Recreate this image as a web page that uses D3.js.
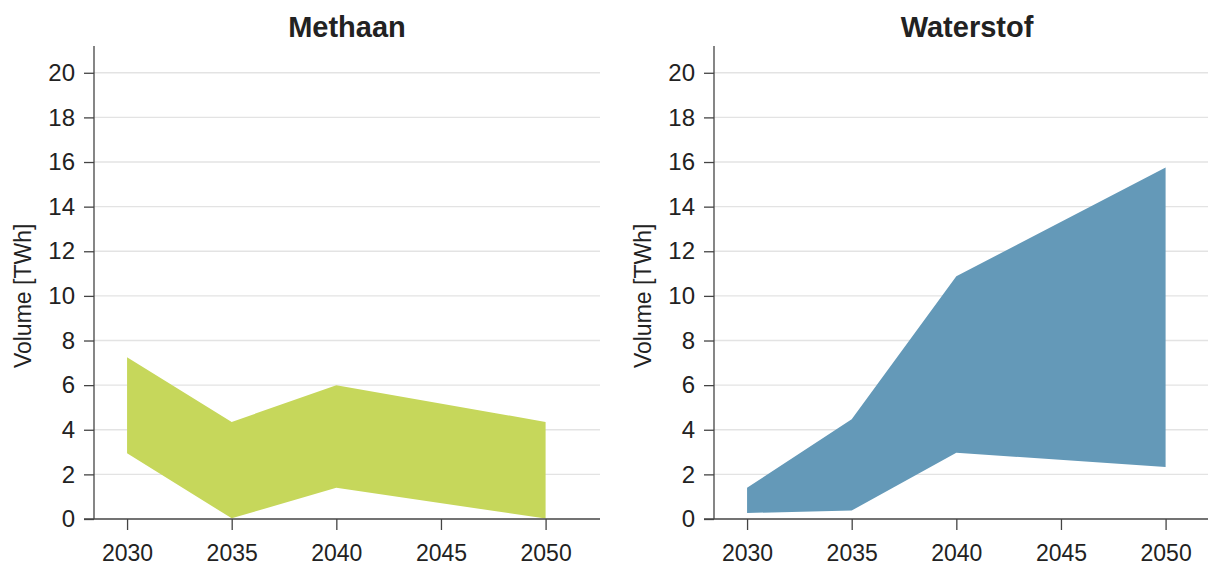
<!DOCTYPE html>
<html><head><meta charset="utf-8">
<script src="https://cdn.jsdelivr.net/npm/d3@7"></script>
<style>
body{margin:0;background:#fff;}
svg text{font-family:"Liberation Sans",Arial,Helvetica,sans-serif;fill:#222;}
</style></head>
<body><svg id="c" width="1208" height="567"></svg>
<script>
const years = [2030, 2035, 2040, 2050];
const xTicks = [2030, 2035, 2040, 2045, 2050];
const yTicks = [0, 2, 4, 6, 8, 10, 12, 14, 16, 18, 20];
const titles = ["Methaan", "Waterstof"];
const yLabel = "Volume [TWh]";
const methaanLow  = [2.95, 0.03, 1.4, 0.02];
const methaanHigh = [7.25, 4.35, 6.0, 4.35];
const waterstofLow  = [0.27, 0.38, 2.97, 2.33];
const waterstofHigh = [1.4, 4.47, 10.88, 15.75];
const colors = ["#c6d75b", "#6499b8"];

const svg = d3.select("#c");
const panels = [
  {title: titles[0], low: methaanLow, high: methaanHigh, color: colors[0], left: 94},
  {title: titles[1], low: waterstofLow, high: waterstofHigh, color: colors[1], left: 714}
];
const PW = 506, PTOP = 46, PBOT = 519;
const tickFont = "'Liberation Sans Narrow', 'Arial Narrow', 'Liberation Sans', Arial, sans-serif";

panels.forEach(p => {
  const g = svg.append("g");
  const x = d3.scaleLinear().domain([2028.42, 2052.6]).range([p.left, p.left + PW]);
  const y = d3.scaleLinear().domain([0, 21.2]).range([PBOT, PTOP]);

  // gridlines
  g.selectAll(".grid").data(yTicks.filter(d => d > 0)).enter().append("line")
    .attr("x1", p.left).attr("x2", p.left + PW)
    .attr("y1", d => y(d)).attr("y2", d => y(d))
    .attr("stroke", "#e3e3e3").attr("stroke-width", 1.3);

  // area
  const data = years.map((yr, i) => ({yr, lo: p.low[i], hi: p.high[i]}));
  const area = d3.area().x(d => x(d.yr)).y0(d => y(d.lo)).y1(d => y(d.hi));
  g.append("path").datum(data).attr("d", area).attr("fill", p.color);

  // y axis
  const ya = d3.axisLeft(y).tickValues(yTicks).tickSize(10).tickPadding(9).tickSizeOuter(0);
  const yg = g.append("g").attr("transform", `translate(${p.left},0)`).call(ya);
  yg.select(".domain").attr("stroke", "#444").attr("stroke-width", 1.3)
    .attr("d", `M0,${PTOP}V${PBOT}`);
  yg.selectAll(".tick line").attr("stroke", "#444").attr("stroke-width", 1.3);
  yg.selectAll(".tick text").attr("font-size", 24).attr("fill", "#222")
    .attr("font-family", tickFont);

  // x axis
  const xa = d3.axisBottom(x).tickValues(xTicks).tickFormat(d3.format("d")).tickSize(11).tickPadding(15).tickSizeOuter(0);
  const xg = g.append("g").attr("transform", `translate(0,${PBOT})`).call(xa);
  xg.select(".domain").attr("stroke", "#444").attr("stroke-width", 1.3)
    .attr("d", `M${p.left - 10},0H${p.left + PW}`);
  xg.selectAll(".tick line").attr("stroke", "#444").attr("stroke-width", 1.3);
  xg.selectAll(".tick text").attr("font-size", 23).attr("fill", "#222")
    .attr("font-family", tickFont);

  // title
  g.append("text").attr("x", p.left + PW / 2).attr("y", 37)
    .attr("text-anchor", "middle").attr("font-size", 29).attr("font-weight", "bold")
    .text(p.title);

  // y label
  g.append("text")
    .attr("transform", `translate(${p.left - 63},${(y(0) + y(20)) / 2}) rotate(-90)`)
    .attr("text-anchor", "middle").attr("font-size", 23)
    .text(yLabel);
});
</script></body></html>
